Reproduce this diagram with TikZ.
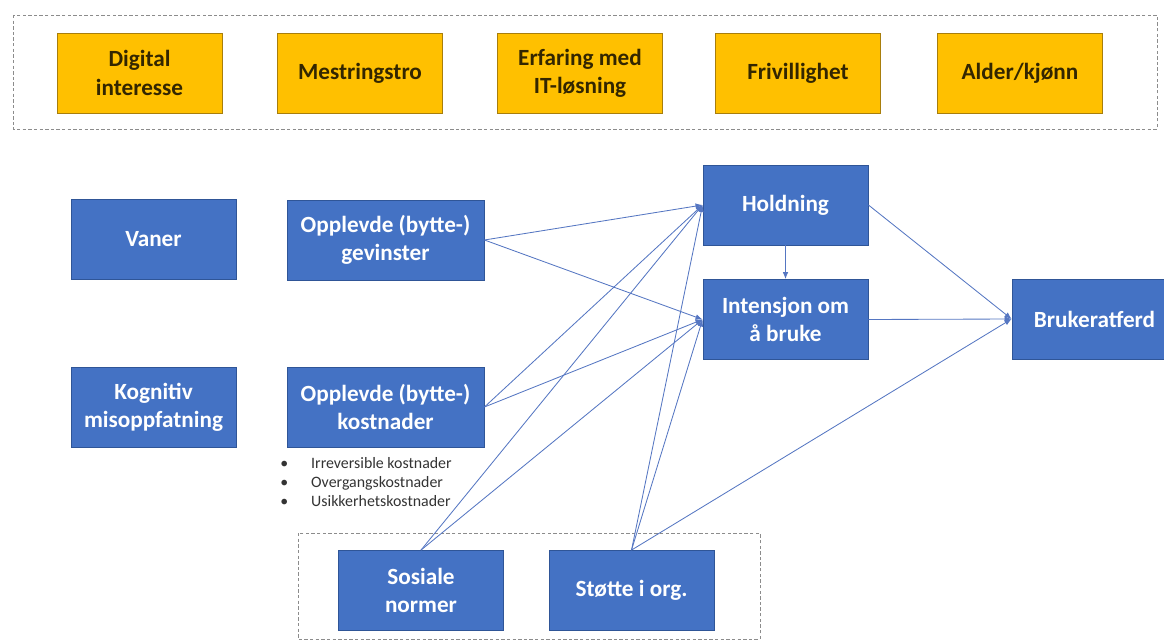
\documentclass[tikz,border=0pt]{standalone}
\usepackage{fontspec}
\setmainfont{Carlito}
\usepackage{tikz}
\usetikzlibrary{arrows.meta,positioning}
\definecolor{adpInk}{HTML}{332600}
\definecolor{adpBlue}{HTML}{2F5597}
\definecolor{adpBlueFill}{HTML}{4472C4}
\definecolor{adpGold}{HTML}{A87E0C}
\definecolor{adpGoldFill}{HTML}{FFC000}
\definecolor{adpFrame}{HTML}{8C8C8C}
\definecolor{adpEdge}{HTML}{5576C2}
\definecolor{adpNote}{HTML}{333333}
\tikzset{
  adpFactor/.style={fill=adpBlueFill,draw=adpBlue,text=white},
  adpModerator/.style={fill=adpGoldFill,draw=adpGold,text=adpInk},
  adpFrameBox/.style={draw=adpFrame,dash pattern=on 2.4pt off 1.6pt,line width=0.6pt},
  adpEdge/.style={draw=adpEdge,line width=0.6pt}
}

\begin{document}
\begin{tikzpicture}[x=0.025cm,y=-0.025cm,
  box/.style={rectangle,align=center,minimum width=4.125cm,
    minimum height=2cm,inner sep=2pt,line width=0.6pt,
    font=\fontsize{16.5}{20}\selectfont\bfseries},
  widebox/.style={box,minimum width=4.925cm},
  arrow/.style={adpEdge,-{Latex[length=5pt,width=4pt]}}]
\useasboundingbox (0,0) rectangle (1164,644);

% moderating factors
\draw[adpFrameBox] (13,15) rectangle (1157,129);
\node[box,adpModerator] (interest) at (139.5,73) {Digital\\interesse};
\node[box,adpModerator] (efficacy) at (360,73) {Mestringstro};
\node[box,adpModerator] (experience) at (580,73) {Erfaring med\\IT-løsning};
\node[box,adpModerator] (voluntary) at (798,73) {Frivillighet};
\node[box,adpModerator] (agegender) at (1020,73) {Alder/kjønn};

% left column
\node[box,adpFactor] (habits) at (153.5,239) {Vaner};
\node[box,adpFactor] (misbelief) at (153.5,407) {Kognitiv\\misoppfatning};
\node[widebox,adpFactor] (gains) at (385.5,240) {Opplevde (bytte-)\\gevinster};
\node[widebox,adpFactor] (costs) at (385.5,407) {Opplevde (bytte-)\\kostnader};
\node[anchor=north west,inner sep=0pt,align=left,text=adpNote,
  font=\fontsize{11.3}{13.6}\selectfont] (costlist) at (280,457)
  {\makebox[22pt][l]{•}Irreversible kostnader\\
   \makebox[22pt][l]{•}Overgangskostnader\\
   \makebox[22pt][l]{•}Usikkerhetskostnader};

% social context
\draw[adpFrameBox] (298,533) rectangle (760,639);
\node[box,adpFactor] (norms) at (421,590.5) {Sosiale\\normer};
\node[box,adpFactor] (support) at (631.5,590.5) {Støtte i org.};

% core model
\node[box,adpFactor] (attitude) at (785.5,205) {Holdning};
\node[box,adpFactor] (intention) at (785.5,319.5) {Intensjon om\\å bruke};
\node[box,adpFactor] (behaviour) at (1094.5,319) {Brukeratferd};

\draw[arrow] (gains.east) -- (attitude.west);
\draw[arrow] (gains.east) -- (intention.west);
\draw[arrow] (costs.east) -- (attitude.west);
\draw[arrow] (costs.east) -- (intention.west);
\draw[arrow] (norms.north) -- (attitude.west);
\draw[arrow] (norms.north) -- (intention.west);
\draw[arrow] (support.north) -- (attitude.west);
\draw[arrow] (support.north) -- (intention.west);
\draw[arrow] (support.north) -- (behaviour.west);
\draw[arrow] (attitude) -- (intention);
\draw[arrow] (attitude.east) -- (behaviour.west);
\draw[arrow] (intention.east) -- (behaviour.west);
\end{tikzpicture}
\end{document}
